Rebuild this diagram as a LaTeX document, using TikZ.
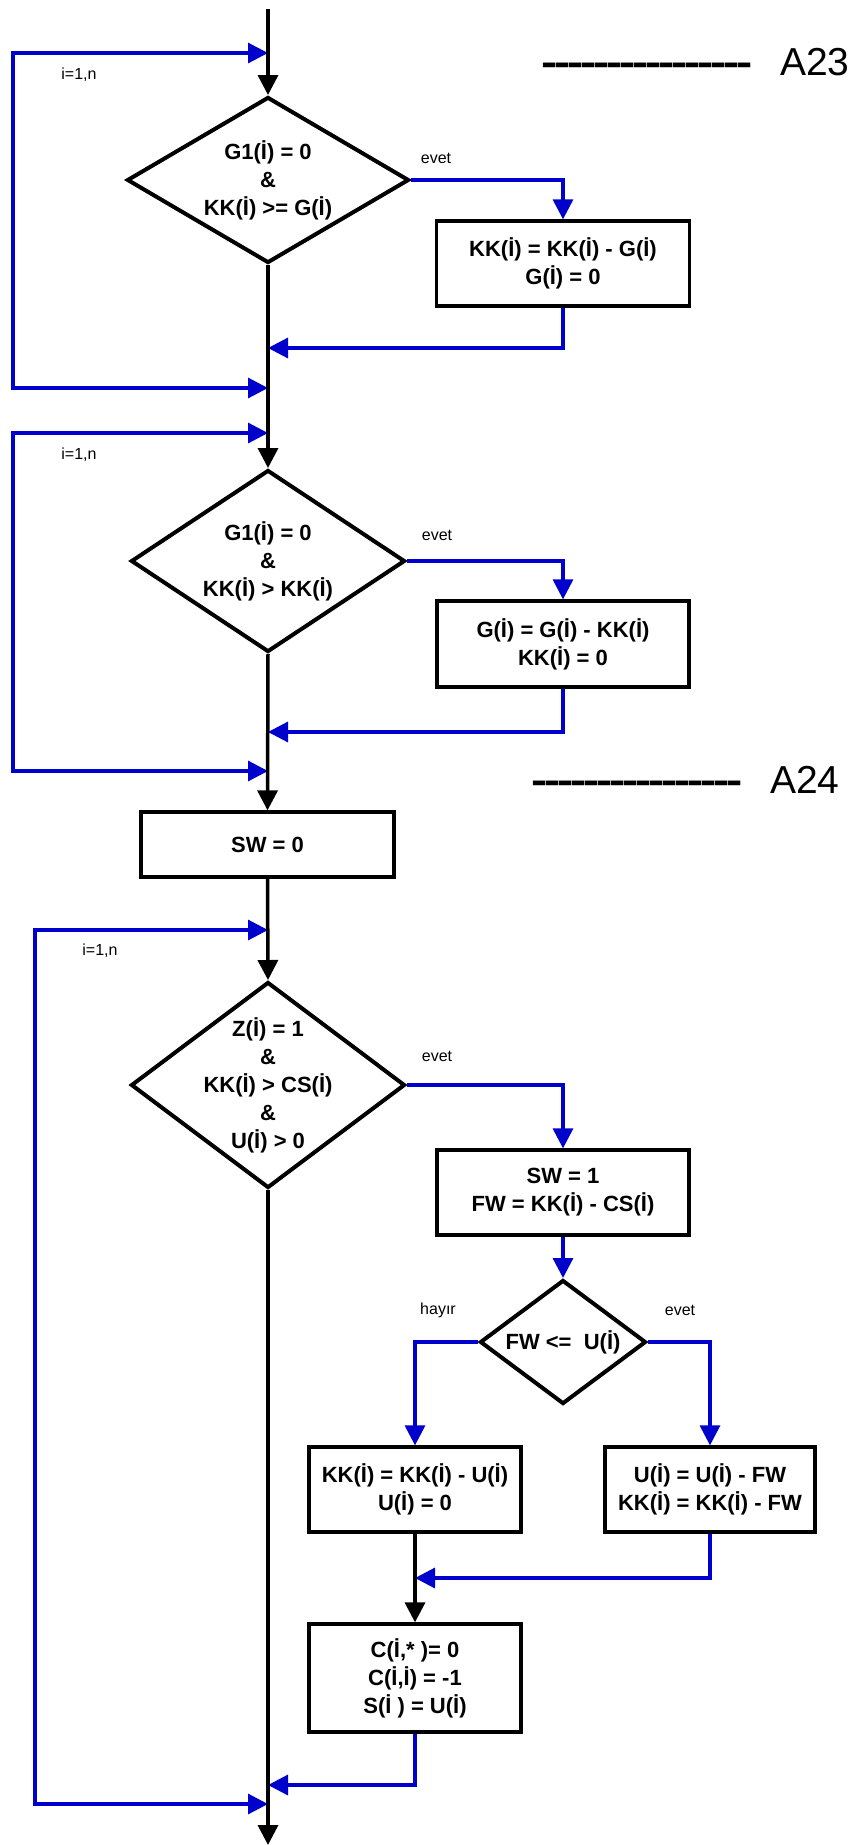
\documentclass[tikz,border=0pt]{standalone}
\usepackage{fontspec}
\setmainfont{Liberation Sans}
\newfontfamily\dashfont{Liberation Sans}[FakeStretch=1.25]
\usetikzlibrary{arrows.meta,shapes.geometric}
\definecolor{myblue}{RGB}{0,0,204}
\newcommand\hy{-\kern-3.2pt}
\newcommand\dashrow{{\dashfont\bfseries\hy\hy\hy\hy\hy\hy\hy\hy\hy\hy\hy\hy\hy\hy\hy-}}
\begin{document}
\begin{tikzpicture}[x=1pt,y=-1pt,
  tip/.style={-{Triangle[length=20pt,width=20pt]}},
  blk/.style={line width=3.5pt, black, tip},
  bl/.style={line width=3.2pt, myblue, tip},
  loopst/.style={line width=3.2pt, myblue, {Triangle[length=20pt,width=20pt]}-{Triangle[length=20pt,width=20pt]}},
  boxst/.style={draw, line width=3.3pt, rectangle, inner sep=0pt, align=center,
    font=\fontsize{22}{28}\selectfont\bfseries},
  dia/.style={draw, line width=4pt, diamond, inner sep=0pt},
  dtxt/.style={align=center, inner sep=0pt, font=\fontsize{22}{28}\selectfont\bfseries},
  lab/.style={inner sep=0pt, font=\fontsize{16}{19}\selectfont},
  big/.style={inner sep=0pt, font=\fontsize{39}{44}\selectfont},
]
\useasboundingbox[fill=white] (0,0) rectangle (855,1845);

% ---------- nodes ----------
\node[dia, minimum width=282pt, minimum height=166pt] (d1) at (268,180) {};
\node[dtxt] (t1) at (d1.center) {G1(İ) = 0\\ \&\\ KK(İ) >= G(İ)};
\node[boxst, minimum width=253pt, minimum height=85pt] (b1) at (563,263.5) {KK(İ) = KK(İ) - G(İ)\\ G(İ) = 0};

\node[dia, minimum width=274pt, minimum height=182pt] (d2) at (268,561) {};
\node[dtxt] (t2) at (d2.center) {G1(İ) = 0\\ \&\\ KK(İ) > KK(İ)};
\node[boxst, minimum width=252pt, minimum height=86pt] (b2) at (563,644) {G(İ) = G(İ) - KK(İ)\\ KK(İ) = 0};

\node[boxst, minimum width=253pt, minimum height=65pt] (sw0) at (267.5,844.5) {SW = 0};

\node[dia, minimum width=274pt, minimum height=206pt] (d3) at (268,1085) {};
\node[dtxt] (t3) at (d3.center) {Z(İ) = 1\\ \&\\ KK(İ) > CS(İ)\\ \&\\ U(İ) > 0};
\node[boxst, minimum width=252pt, minimum height=85pt] (b3) at (563,1192.5) {SW = 1\\ FW = KK(İ) - CS(İ)};

\node[dia, minimum width=166pt, minimum height=124pt] (d4) at (563,1342) {};
\node[dtxt] (t4) at (d4.center) {FW <= \ U(İ)};

\node[boxst, minimum width=212pt, minimum height=85pt] (bL) at (415,1489.5) {KK(İ) = KK(İ) - U(İ)\\ U(İ) = 0};
\node[boxst, minimum width=210pt, minimum height=85pt] (bR) at (710,1489.5) {U(İ) = U(İ) - FW\\ KK(İ) = KK(İ) - FW};
\node[boxst, minimum width=212pt, minimum height=108pt] (bC) at (415,1678) {C(İ,* )= 0\\ C(İ,İ) = -1\\ S(İ ) = U(İ)};

% ---------- labels ----------
\node[lab] (ev1) at (436,158) {evet};
\node[lab] (ev2) at (437,535) {evet};
\node[lab] (ev3) at (437,1056) {evet};
\node[lab] (hay) at (438,1310) {hayır};
\node[lab] (ev4) at (680,1310) {evet};
\node[lab] (i1) at (79,75) {i=1,n};
\node[lab] (i2) at (79,455) {i=1,n};
\node[lab] (i3) at (100,951) {i=1,n};

\node[big, anchor=base west] (dA23) at (541,75) {\dashrow};
\node[big, anchor=base west] (A23) at (780,75) {A23};
\node[big, anchor=base west] (dA24) at (531,793) {\dashrow};
\node[big, anchor=base west] (A24) at (770,793) {A24};

% ---------- coordinates ----------
\coordinate (top) at (268,9);
\coordinate (j1a) at (268,53);  \coordinate (L1a) at (13,53);
\coordinate (L1b) at (13,388);  \coordinate (j1b) at (268,388);
\coordinate (r1) at (268,348);
\coordinate (j2a) at (268,433); \coordinate (L2a) at (13,433);
\coordinate (L2b) at (13,771);  \coordinate (j2b) at (268,771);
\coordinate (r2) at (268,732);
\coordinate (j3a) at (268,930); \coordinate (L3a) at (35,930);
\coordinate (L3b) at (35,1804); \coordinate (j3b) at (268,1804);
\coordinate (r3) at (268,1785);
\coordinate (m4) at (415,1578);
\coordinate (end) at (268,1845);

% ---------- blue connectors ----------
\draw[bl] (d1.east) -| (b1.north);
\draw[bl] (b1.south) |- (r1);
\draw[loopst] (j1a) -- (L1a) -- (L1b) -- (j1b);

\draw[bl] (d2.east) -| (b2.north);
\draw[bl] (b2.south) |- (r2);
\draw[loopst] (j2a) -- (L2a) -- (L2b) -- (j2b);

\draw[bl] (d3.east) -| (b3.north);
\draw[bl] (b3.south) -- (d4.north);
\draw[bl] (d4.west) -| (bL.north);
\draw[bl] (d4.east) -| (bR.north);
\draw[bl] (bR.south) |- (m4);
\draw[bl] (bC.south) |- (r3);
\draw[loopst] (j3a) -- (L3a) -- (L3b) -- (j3b);

% ---------- black connectors ----------
\draw[blk] (top) -- (d1.north);
\draw[blk] (d1.south) -- (d2.north);
\draw[blk] (d2.south) -- (sw0.north);
\draw[blk] (sw0.south) -- (d3.north);
\draw[blk] (d3.south) -- (end);
\draw[blk] (bL.south) -- (bC.north);
\end{tikzpicture}
\end{document}
